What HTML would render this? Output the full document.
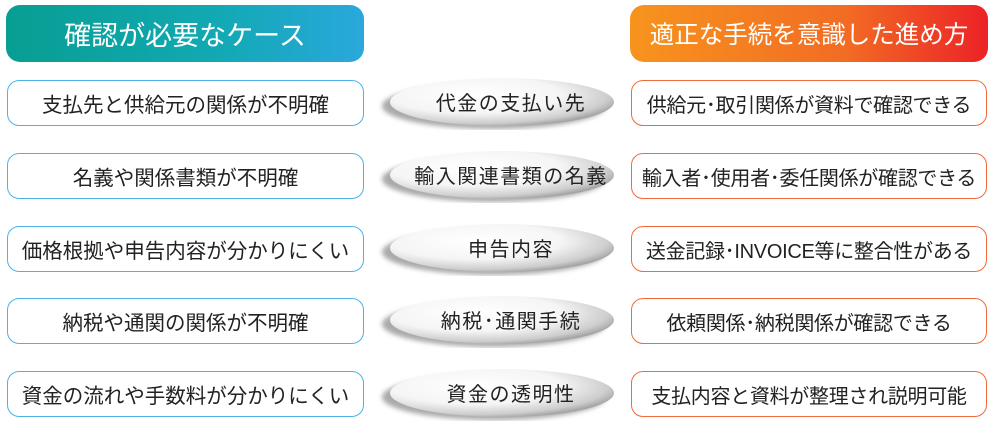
<!DOCTYPE html>
<html><head><meta charset="utf-8"><style>
body{margin:0;width:995px;height:430px;background:#fff;position:relative;overflow:hidden;font-family:"Liberation Sans","Noto Sans CJK JP",sans-serif;}
.h{position:absolute;top:5px;height:57px;border-radius:14px;color:#fff;display:flex;align-items:center;justify-content:center;white-space:nowrap}
.b{position:absolute;height:46px;border-radius:12px;background:#fff;font-size:20.5px;color:#222;display:flex;align-items:center;justify-content:center;box-sizing:border-box;white-space:nowrap}
.l{left:7px;width:357px;border:1.5px solid #4db3e6}
.r{left:631px;width:356px;border:1.5px solid #f06a3a;font-size:20px;letter-spacing:-0.3px}
.e{position:absolute;left:376px;width:242px;height:54px;font-size:20px;color:#222;white-space:nowrap;letter-spacing:1.5px}
.e svg{position:absolute;left:0;top:0}
.e span{position:absolute;left:0;right:0;top:0;height:50px;display:flex;align-items:center;justify-content:center;padding-left:28px}
</style></head><body>
<div class="h" style="left:6px;width:358px;font-size:27px;background:linear-gradient(90deg,#089e92 0%,#12a9b4 60%,#2aa8dd 100%)">確認が必要なケース</div>
<div class="h" style="left:630px;width:358px;font-size:24.5px;background:linear-gradient(90deg,#f7941d 0%,#f26c24 60%,#ec2227 100%)">適正な手続を意識した進め方</div>
<svg width="0" height="0" style="position:absolute"><defs>
<radialGradient id="g" cx="38%" cy="35%" r="70%"><stop offset="0" stop-color="#fff"/><stop offset="0.55" stop-color="#f5f5f5"/><stop offset="0.85" stop-color="#cdcdcd"/><stop offset="1" stop-color="#9a9a9a"/></radialGradient>
<filter id="f"><feGaussianBlur stdDeviation="2.5"/></filter></defs></svg>

<div class="b l" style="top:80px">支払先と供給元の関係が不明確</div>
<div class="b l" style="top:153px">名義や関係書類が不明確</div>
<div class="b l" style="top:226px">価格根拠や申告内容が分かりにくい</div>
<div class="b l" style="top:298px">納税や通関の関係が不明確</div>
<div class="b l" style="top:371px">資金の流れや手数料が分かりにくい</div>

<div class="b r" style="top:80px">供給元･取引関係が資料で確認できる</div>
<div class="b r" style="top:153px">輸入者･使用者･委任関係が確認できる</div>
<div class="b r" style="top:226px">送金記録･INVOICE等に整合性がある</div>
<div class="b r" style="top:298px">依頼関係･納税関係が確認できる</div>
<div class="b r" style="top:371px">支払内容と資料が整理され説明可能</div>

<div class="e" style="top:76px"><svg width="242" height="54"><ellipse cx="118" cy="30" rx="112" ry="23" fill="#aaa" filter="url(#f)"/><ellipse cx="126" cy="26" rx="112" ry="24" fill="url(#g)"/></svg><span>代金の支払い先</span></div>
<div class="e" style="top:149px"><svg width="242" height="54"><ellipse cx="118" cy="30" rx="112" ry="23" fill="#aaa" filter="url(#f)"/><ellipse cx="126" cy="26" rx="112" ry="24" fill="url(#g)"/></svg><span>輸入関連書類の名義</span></div>
<div class="e" style="top:222px"><svg width="242" height="54"><ellipse cx="118" cy="30" rx="112" ry="23" fill="#aaa" filter="url(#f)"/><ellipse cx="126" cy="26" rx="112" ry="24" fill="url(#g)"/></svg><span>申告内容</span></div>
<div class="e" style="top:294px"><svg width="242" height="54"><ellipse cx="118" cy="30" rx="112" ry="23" fill="#aaa" filter="url(#f)"/><ellipse cx="126" cy="26" rx="112" ry="24" fill="url(#g)"/></svg><span>納税･通関手続</span></div>
<div class="e" style="top:367px"><svg width="242" height="54"><ellipse cx="118" cy="30" rx="112" ry="23" fill="#aaa" filter="url(#f)"/><ellipse cx="126" cy="26" rx="112" ry="24" fill="url(#g)"/></svg><span>資金の透明性</span></div>
</body></html>
